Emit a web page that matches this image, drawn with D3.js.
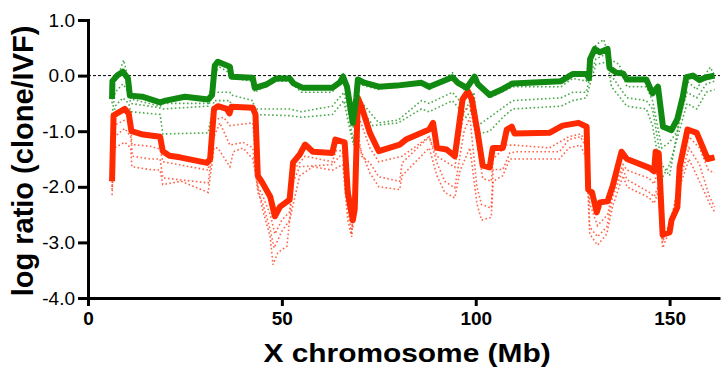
<!DOCTYPE html>
<html>
<head>
<meta charset="utf-8">
<script src="https://cdn.jsdelivr.net/npm/d3@7"></script>
<style>
  body { margin: 0; background: #fff; }
  svg { display: block; }
</style>
</head>
<body>
<div class="chart"></div>
<script>
// main (thick) traces: [Mb, log ratio]
const greenMain = [[6.2,-0.42],[6.3,-0.1],[7.5,0.0],[9,0.07],[10.3,-0.05],[10.8,-0.36],[14,-0.38],[18.6,-0.48],[20,-0.45],[25,-0.38],[31,-0.43],[32,-0.35],[32.7,0.18],[33.5,0.25],[36.6,0.16],[37,-0.02],[42.5,-0.04],[43,-0.22],[46,-0.16],[48.6,-0.05],[52,-0.05],[53,-0.14],[55.4,-0.22],[63,-0.22],[65,-0.12],[65.8,-0.02],[66.8,-0.2],[68.3,-0.85],[69.2,-0.4],[69.6,-0.07],[71,-0.12],[75,-0.2],[79.6,-0.18],[86,-0.13],[88,-0.2],[94,-0.03],[95.4,-0.13],[97.7,-0.22],[99.7,-0.02],[100.5,-0.15],[103.6,-0.35],[107,-0.24],[109.5,-0.14],[122,-0.1],[125,0.03],[128.6,0.03],[129.2,-0.05],[129.5,0.3],[130.7,0.48],[132,0.42],[134,0.48],[134.5,0.14],[136.3,0.05],[138,0.04],[139,-0.07],[144,-0.07],[145.6,-0.32],[147,-0.2],[148.3,-0.92],[150.5,-0.98],[152,-0.78],[153.4,-0.38],[154.3,-0.03],[156,0],[157.7,-0.08],[159.5,-0.03],[161.6,0.0]];

const redMain = [[6.2,-1.9],[6.3,-1.6],[6.6,-0.72],[7.7,-0.67],[9.5,-0.6],[10.5,-0.68],[11.2,-1.0],[14.2,-1.06],[18.6,-1.1],[19.3,-1.36],[21,-1.44],[23.7,-1.47],[30.7,-1.57],[31.5,-1.5],[32.5,-0.6],[33.5,-0.55],[35.8,-0.6],[36.5,-0.68],[37,-0.56],[42.5,-0.58],[43.2,-0.7],[43.8,-1.8],[45,-1.93],[47,-2.18],[48.2,-2.53],[49.5,-2.36],[52,-2.23],[52.9,-1.56],[54.6,-1.42],[56,-1.24],[58,-1.37],[63,-1.39],[63.8,-1.15],[66.2,-1.2],[67,-2.1],[68.3,-2.6],[68.8,-2.4],[69.6,-0.4],[70.5,-0.55],[72.7,-1.03],[75,-1.36],[80.4,-1.24],[82,-1.15],[88,-0.97],[89,-0.85],[90,-1.3],[92.5,-1.33],[94.6,-1.45],[96.6,-0.43],[98,-0.28],[99,-0.43],[100.5,-1.03],[101.8,-1.62],[103.6,-1.65],[104.4,-1.3],[107,-1.3],[108,-0.97],[109.3,-0.92],[110,-1.04],[119,-1.03],[122.4,-0.9],[126.5,-0.85],[128.6,-0.92],[129,-2.05],[130,-2.1],[131.2,-2.46],[132,-2.28],[134,-2.26],[135.3,-1.99],[137.6,-1.37],[139,-1.5],[144.8,-1.66],[146,-1.72],[146.4,-1.37],[147.2,-1.4],[148.2,-2.86],[150,-2.82],[150.5,-2.6],[152,-2.37],[152.6,-1.64],[154.6,-0.97],[157,-1.03],[158.5,-1.28],[159.8,-1.5],[161.6,-1.47]];

// thin dotted traces
const greenDot1 = [[6.2,-0.5],[6.5,-0.1],[8,0.05],[9.2,0.28],[10.5,-0.1],[11,-0.42],[18.6,-0.55],[19.3,-0.5],[31,-0.5],[32.5,0.05],[34,0.15],[36.5,0.05],[37,-0.05],[42.5,-0.1],[43,-0.3],[48,-0.1],[52,-0.1],[55,-0.3],[63,-0.3],[66,0.05],[67,-0.4],[68.5,-0.95],[69.5,-0.15],[75,-0.25],[80,-0.15],[86,-0.1],[88,-0.25],[94,0.05],[97.5,-0.3],[99.5,0.0],[103.6,-0.4],[109.5,-0.2],[122,-0.2],[125,-0.05],[128.5,-0.1],[129.5,0.2],[131,0.55],[133,0.65],[134.5,0.3],[137,0.2],[139,-0.2],[144,-0.2],[145.6,-0.45],[148,-1.3],[150,-1.2],[152,-1.0],[153.4,-0.5],[154.5,-0.1],[157,-0.25],[159,0.0],[160.5,0.15],[161.6,0.0]];
const greenDot2 = [[6.2,-0.7],[7,-0.3],[9,-0.15],[10.5,-0.3],[11,-0.5],[18.6,-0.58],[19.3,-0.6],[31,-0.55],[32.5,-0.3],[36.6,-0.3],[37,-0.35],[42.5,-0.45],[43,-0.6],[52,-0.6],[55,-0.65],[63,-0.55],[66,-0.3],[67,-0.6],[68.5,-1.2],[69.5,-0.4],[72,-0.6],[75,-0.85],[80,-0.8],[86,-0.45],[88,-0.5],[94,-0.3],[97.5,-0.6],[99.5,-0.3],[100.5,-0.9],[103.6,-0.75],[109.5,-0.45],[122,-0.4],[125,-0.3],[128.5,-0.3],[129.5,0.0],[131,0.3],[134,0.4],[135,0.0],[139,-0.4],[144,-0.45],[145.6,-0.6],[148,-1.6],[150,-1.8],[151,-1.4],[152.5,-0.8],[154.5,-0.3],[157,-0.4],[159.5,-0.15],[161.6,-0.1]];
const greenDot3 = [[6.2,-0.9],[7,-0.55],[9,-0.4],[10.5,-0.5],[11,-0.65],[18.6,-0.7],[19.3,-1.05],[31,-1.03],[32.5,-0.45],[36.6,-0.45],[37,-0.55],[42.5,-0.55],[43,-0.7],[52,-0.72],[55,-0.75],[63,-0.7],[66,-0.45],[67,-0.8],[68.5,-1.25],[69.5,-0.5],[72,-0.75],[73.5,-0.9],[80,-0.85],[86,-0.6],[88,-0.65],[94,-0.45],[97.5,-0.75],[99.5,-0.55],[100.5,-1.05],[103.6,-1.0],[107,-0.75],[109.5,-0.6],[122,-0.55],[125,-0.45],[128.5,-0.4],[129.5,-0.15],[131,0.2],[134,0.25],[135,-0.2],[139,-0.55],[144,-0.6],[145.6,-0.9],[148,-1.85],[150,-1.6],[152.5,-1.0],[154.5,-0.5],[157,-0.6],[159.5,-0.3],[161.6,-0.25]];

const redDot1 = [[6.2,-2.0],[6.6,-0.9],[9.5,-0.8],[11,-0.85],[11.3,-1.24],[16,-1.27],[18.6,-1.32],[19.3,-1.55],[31,-1.7],[32.5,-0.8],[35,-0.75],[36.6,-0.9],[42.5,-0.85],[43.8,-2.0],[45,-2.15],[47,-2.5],[48.2,-2.85],[50,-2.6],[52,-2.45],[53,-1.7],[56,-1.45],[63,-1.55],[64,-1.35],[66,-1.35],[67,-2.3],[68.3,-2.75],[69.6,-0.7],[72.7,-1.3],[75,-1.55],[81,-1.45],[88,-1.1],[90,-1.45],[94.6,-1.65],[97,-0.65],[98.5,-0.55],[100.5,-1.25],[101.8,-1.85],[104,-1.9],[104.5,-1.5],[108,-1.25],[110,-1.25],[119,-1.3],[124,-1.1],[127,-1.05],[128.6,-1.2],[129.4,-2.3],[131.4,-2.7],[134,-2.5],[135.3,-2.1],[138,-1.6],[139,-1.7],[144.8,-1.85],[146,-1.95],[147,-1.7],[148.2,-2.95],[150.5,-2.7],[152.6,-1.75],[155,-1.1],[157.7,-1.3],[160,-1.7],[161.6,-1.75]];
const redDot2 = [[6.2,-2.05],[6.8,-1.1],[9.5,-0.95],[11,-1.1],[11.5,-1.45],[16,-1.5],[18.6,-1.5],[19.3,-1.84],[31,-1.93],[32.5,-1.1],[34,-0.85],[36.6,-1.25],[40,-1.2],[42.5,-1.3],[43.8,-2.1],[45,-2.29],[47,-2.77],[48,-3.1],[50,-2.8],[52,-2.6],[53,-1.9],[54.6,-1.64],[63,-1.6],[65.7,-1.39],[67,-2.4],[68,-2.86],[69.6,-1.0],[70.6,-1.45],[72.7,-1.57],[75,-1.82],[80.4,-1.9],[81,-1.57],[88,-1.1],[90,-1.57],[92,-1.9],[94.6,-2.02],[97,-1.0],[98.5,-0.75],[100.3,-2.0],[101.5,-2.32],[104,-2.38],[104.5,-1.69],[107,-1.69],[108.8,-1.39],[110.5,-1.37],[121.6,-1.37],[124,-1.15],[127,-1.1],[128.6,-1.3],[129.4,-2.72],[131.4,-2.9],[133.8,-2.72],[135.3,-2.18],[138,-1.69],[139,-1.87],[144.8,-2.1],[146,-2.18],[147,-2.0],[148.2,-3.0],[150.5,-2.54],[152.6,-1.9],[155,-1.3],[157.7,-1.6],[160.3,-2.18],[161.6,-2.36]];
const redDot3 = [[6.2,-2.15],[6.8,-1.3],[9.5,-1.2],[11,-1.3],[11.3,-1.64],[16,-1.69],[18.6,-1.7],[19.3,-1.96],[24,-1.9],[31,-2.1],[32.5,-1.3],[33.5,-1.3],[36.6,-1.64],[37.5,-1.37],[40,-1.3],[42.5,-1.5],[43.8,-2.0],[45,-2.4],[47,-2.9],[47.7,-3.4],[49,-3.18],[51.3,-3.07],[52,-2.6],[54.6,-1.8],[58,-1.64],[63,-1.7],[65.7,-1.6],[67,-2.6],[68,-2.9],[69.6,-1.2],[72.7,-1.75],[75,-2.0],[80.4,-2.05],[81,-1.8],[88,-1.3],[90,-1.8],[92,-2.1],[94.6,-2.2],[96,-1.7],[98.5,-1.3],[100.3,-2.3],[101.5,-2.6],[104,-2.55],[104.5,-1.9],[107,-1.8],[108.8,-1.5],[121.6,-1.5],[124,-1.3],[127,-1.25],[128.6,-1.5],[129.4,-2.85],[131.4,-3.05],[133.8,-2.85],[135.3,-2.35],[138,-1.8],[139,-2.0],[144.8,-2.2],[146,-2.3],[147,-2.1],[148.2,-3.1],[150.5,-2.7],[152.6,-2.0],[155,-1.5],[157.7,-1.9],[160.3,-2.3],[161.6,-2.45]];

const xTicks = [0, 50, 100, 150];
const yTicks = [1, 0, -1, -2, -3, -4];

const width = 723, height = 369;
const margin = {top: 20, right: 3, bottom: 71, left: 88};

const svg = d3.select(".chart").append("svg")
    .attr("width", width)
    .attr("height", height)
    .attr("font-family", "'Liberation Sans', Arial, sans-serif");

const x = d3.scaleLinear()
    .domain([0, 163])
    .range([margin.left, width - margin.right]);

const y = d3.scaleLinear()
    .domain([-4, 1])
    .range([height - margin.bottom, margin.top]);

const line = d3.line()
    .x(d => x(d[0]))
    .y(d => y(d[1]));

// zero reference line
svg.append("line")
    .attr("x1", x(0)).attr("x2", x(163))
    .attr("y1", y(0)).attr("y2", y(0))
    .attr("stroke", "#000")
    .attr("stroke-width", 1)
    .attr("stroke-dasharray", "3,2");

const dotted = [
  {data: greenDot1, color: "#2a9a2a"},
  {data: greenDot2, color: "#2a9a2a"},
  {data: greenDot3, color: "#2a9a2a"},
  {data: redDot1, color: "#ff4a2a"},
  {data: redDot2, color: "#ff4a2a"},
  {data: redDot3, color: "#ff4a2a"}
];

svg.append("g")
  .selectAll("path")
  .data(dotted)
  .join("path")
    .attr("d", d => line(d.data))
    .attr("fill", "none")
    .attr("stroke", d => d.color)
    .attr("stroke-width", 1.6)
    .attr("stroke-dasharray", "1.6,2.4")
    .attr("opacity", 0.85);

svg.append("path")
    .attr("d", line(redMain))
    .attr("fill", "none")
    .attr("stroke", "#ff2a00")
    .attr("stroke-width", 6)
    .attr("stroke-linejoin", "round");

svg.append("path")
    .attr("d", line(greenMain))
    .attr("fill", "none")
    .attr("stroke", "#108a10")
    .attr("stroke-width", 6)
    .attr("stroke-linejoin", "round");

// axes
const yAxis = svg.append("g")
    .attr("transform", `translate(${margin.left},0)`)
    .call(d3.axisLeft(y).tickValues(yTicks).tickSize(10).tickPadding(3).tickFormat(d3.format(".1f")))
    .call(g => g.select(".domain").attr("stroke-width", 3))
    .call(g => g.selectAll(".tick line").attr("stroke-width", 3))
    .call(g => g.selectAll(".tick text").attr("font-size", 19).attr("fill", "#000"));

yAxis.selectAll(".tick text").text(d => d < 0 ? "-" + Math.abs(d).toFixed(1) : d.toFixed(1));

svg.append("g")
    .attr("transform", `translate(0,${height - margin.bottom})`)
    .call(d3.axisBottom(x).tickValues(xTicks).tickSize(8).tickPadding(6).tickSizeOuter(0))
    .call(g => g.select(".domain").attr("stroke-width", 3))
    .call(g => g.selectAll(".tick line").attr("stroke-width", 3))
    .call(g => g.selectAll(".tick text").attr("font-size", 19).attr("font-weight", "bold").attr("fill", "#000"));

// axis titles
svg.append("text")
    .attr("transform", "translate(407,362) scale(1.15,1)")
    .attr("text-anchor", "middle")
    .attr("font-size", 26)
    .attr("font-weight", "bold")
    .text("X chromosome (Mb)");

svg.append("text")
    .attr("transform", `translate(33,${161}) rotate(-90)`)
    .attr("text-anchor", "middle")
    .attr("font-size", 29)
    .attr("font-weight", "bold")
    .text("log ratio (clone/IVF)");
</script>
</body>
</html>
